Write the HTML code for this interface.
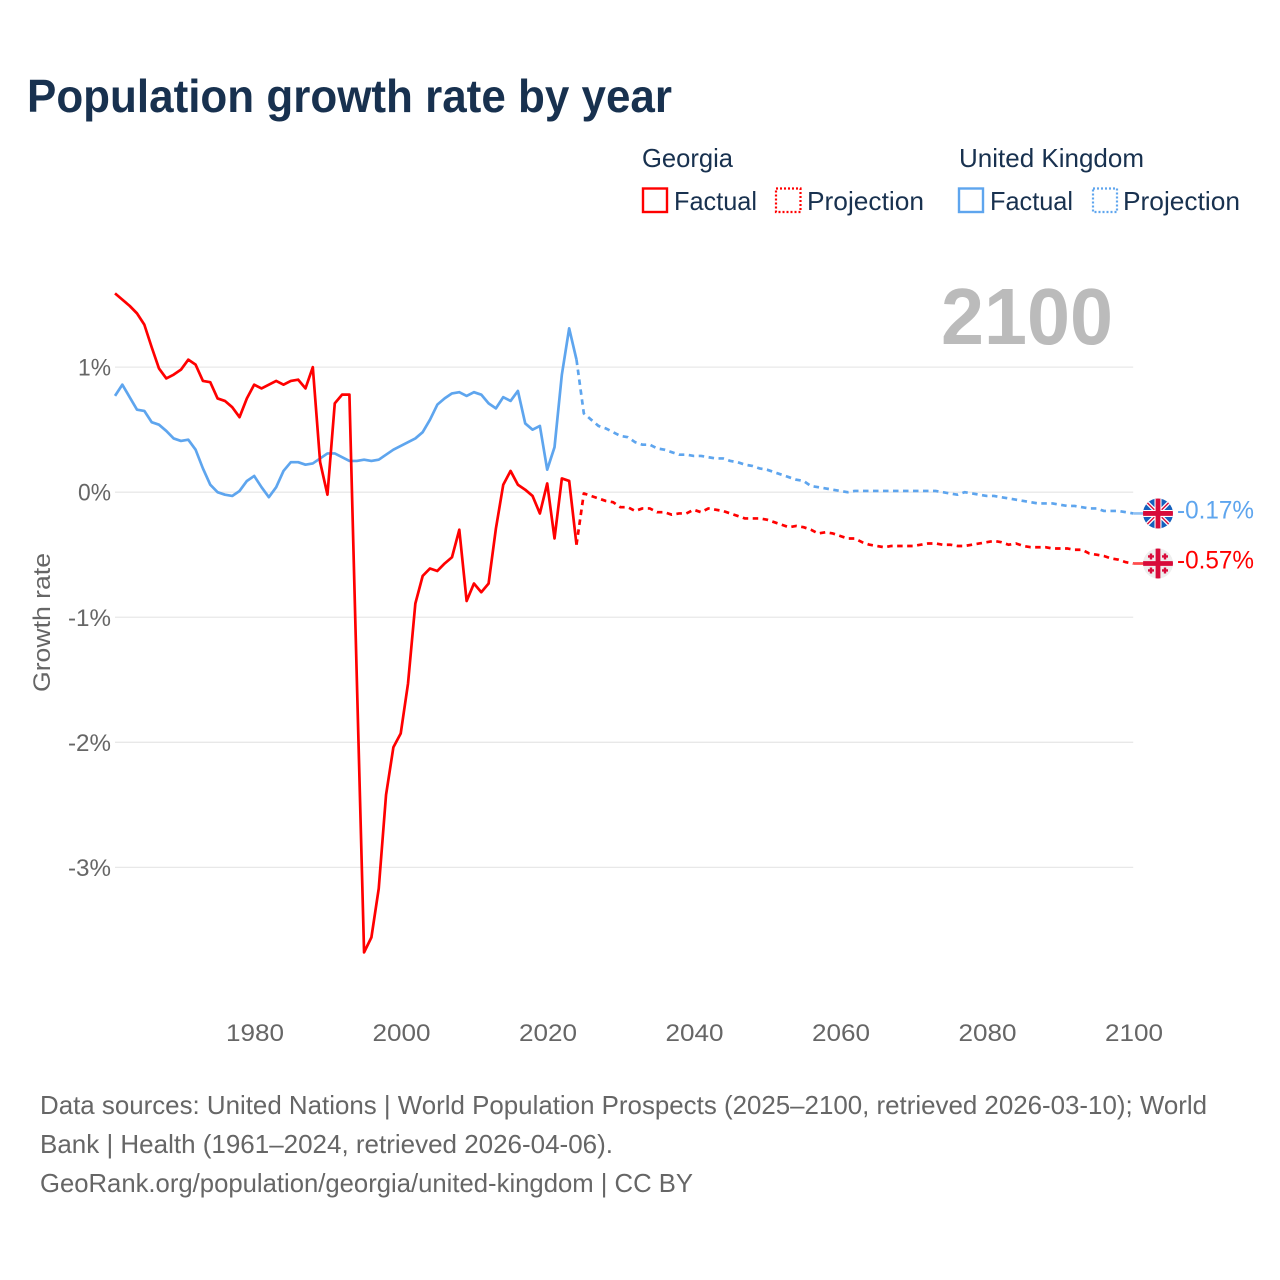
<!DOCTYPE html>
<html lang="en">
<head>
<meta charset="utf-8">
<title>Population growth rate by year</title>
<style>
html,body{margin:0;padding:0;background:#fff;}
svg{display:block;font-family:"Liberation Sans",sans-serif;}
</style>
</head>
<body>
<svg id="chart" xmlns="http://www.w3.org/2000/svg" width="1280" height="1280" viewBox="0 0 1280 1280">
  <defs>
    <clipPath id="clip-uk"><circle cx="0" cy="0" r="15"/></clipPath>
    <clipPath id="clip-ge"><circle cx="0" cy="0" r="15"/></clipPath>
  </defs>
  <rect x="0" y="0" width="1280" height="1280" fill="#fff"/>
  <text x="27" y="112" font-size="46" font-weight="700" fill="#18314f" textLength="645" lengthAdjust="spacingAndGlyphs">Population growth rate by year</text>

  <g font-size="26" fill="#18314f">
    <text x="642" y="167" textLength="91" lengthAdjust="spacingAndGlyphs">Georgia</text>
    <text x="959" y="167" textLength="185" lengthAdjust="spacingAndGlyphs">United Kingdom</text>
    <rect x="643" y="188.5" width="24" height="23.5" fill="none" stroke="#ff0000" stroke-width="2.4"/>
    <text x="674" y="210" textLength="83" lengthAdjust="spacingAndGlyphs">Factual</text>
    <rect x="776" y="188.5" width="24.5" height="23.5" fill="none" stroke="#ff0000" stroke-width="2.2" stroke-dasharray="2 2"/>
    <text x="807" y="210" textLength="117" lengthAdjust="spacingAndGlyphs">Projection</text>
    <rect x="959" y="188.5" width="24" height="23.5" fill="none" stroke="#5ea5ee" stroke-width="2.4"/>
    <text x="990" y="210" textLength="83" lengthAdjust="spacingAndGlyphs">Factual</text>
    <rect x="1093" y="188.5" width="24" height="23.5" fill="none" stroke="#5ea5ee" stroke-width="2.2" stroke-dasharray="2 2"/>
    <text x="1123" y="210" textLength="117" lengthAdjust="spacingAndGlyphs">Projection</text>
  </g>

  <g id="grid"></g>
  <g id="y-ticks" font-size="24" fill="#666"></g>
  <g id="x-ticks" font-size="24" fill="#666"></g>
  <text transform="translate(50 692) rotate(-90)" font-size="24" fill="#666" textLength="139" lengthAdjust="spacingAndGlyphs">Growth rate</text>
  <text x="941" y="344" font-size="80" font-weight="700" fill="#bbbbbb" textLength="172" lengthAdjust="spacingAndGlyphs">2100</text>

  <g id="series"></g>

  <g id="flag-uk">
    <g clip-path="url(#clip-uk)">
      <rect x="-15" y="-15" width="30" height="30" fill="#1560bd"/>
      <path d="M-15-15L15 15M15-15L-15 15" stroke="#fff" stroke-width="4"/>
      <path d="M-15-15L15 15M15-15L-15 15" stroke="#d80b3a" stroke-width="1.4"/>
      <path d="M0-15V15M-15 0H15" stroke="#fff" stroke-width="7"/>
      <path d="M0-15V15M-15 0H15" stroke="#d80b3a" stroke-width="4.8"/>
    </g>
  </g>
  <g id="flag-ge">
    <g clip-path="url(#clip-ge)">
      <rect x="-15" y="-15" width="30" height="30" fill="#eeeeee"/>
      <path d="M0-15V15M-15 0H15" stroke="#d80b3a" stroke-width="4.8"/>
      <path d="M-7-10V-4M-10-7H-4M7-10V-4M4-7H10M-7 4V10M-10 7H-4M7 4V10M4 7H10" stroke="#d80b3a" stroke-width="2.4"/>
    </g>
  </g>
  <text id="label-uk" x="1177" font-size="25" fill="#5ea5ee" textLength="77" lengthAdjust="spacingAndGlyphs"></text>
  <text id="label-ge" x="1177" font-size="25" fill="#ff0000" textLength="77" lengthAdjust="spacingAndGlyphs"></text>

  <g font-size="26" fill="#666">
    <text x="40" y="1114" textLength="1167" lengthAdjust="spacingAndGlyphs">Data sources: United Nations | World Population Prospects (2025–2100, retrieved 2026-03-10); World</text>
    <text x="40" y="1153" textLength="573" lengthAdjust="spacingAndGlyphs">Bank | Health (1961–2024, retrieved 2026-04-06).</text>
    <text x="40" y="1192" textLength="653" lengthAdjust="spacingAndGlyphs">GeoRank.org/population/georgia/united-kingdom | CC BY</text>
  </g>
</svg>
<script>
const yTickValues = [1, 0, -1, -2, -3];
const yTickLabels = ["1%", "0%", "-1%", "-2%", "-3%"];
const xTickYears = [1980, 2000, 2020, 2040, 2060, 2080, 2100];
const factualStartYear = 1961;
const projectionStartYear = 2025;
const georgiaFactual = [1.59,1.54,1.49,1.43,1.34,1.16,0.99,0.91,0.94,0.98,
  1.06,1.02,0.89,0.88,0.75,0.73,0.68,0.60,0.75,0.86,
  0.83,0.86,0.89,0.86,0.89,0.90,0.83,1.00,0.24,-0.02,
  0.71,0.78,0.78,-1.47,-3.68,-3.56,-3.17,-2.42,-2.04,-1.93,
  -1.53,-0.89,-0.67,-0.61,-0.63,-0.57,-0.52,-0.30,-0.87,-0.73,
  -0.80,-0.73,-0.29,0.06,0.17,0.06,0.02,-0.03,-0.17,0.07,
  -0.37,0.11,0.09,-0.42];
const georgiaProjection = [-0.01,-0.03,-0.05,-0.07,-0.08,-0.12,-0.12,-0.15,-0.13,-0.13,
  -0.16,-0.16,-0.18,-0.17,-0.17,-0.14,-0.16,-0.13,-0.14,-0.15,
  -0.17,-0.19,-0.21,-0.21,-0.21,-0.22,-0.24,-0.26,-0.28,-0.27,
  -0.28,-0.30,-0.33,-0.32,-0.33,-0.35,-0.37,-0.37,
  -0.40,-0.42,-0.43,-0.44,-0.43,-0.43,-0.43,-0.43,-0.42,-0.41,
  -0.41,-0.42,-0.42,-0.43,-0.43,-0.42,-0.41,-0.40,-0.39,-0.40,
  -0.42,-0.41,-0.43,-0.44,-0.44,-0.44,-0.45,-0.45,-0.45,-0.46,
  -0.46,-0.49,-0.50,-0.51,-0.53,-0.54,-0.56,-0.57];
const ukFactual = [0.77,0.86,0.76,0.66,0.65,0.56,0.54,0.49,0.43,0.41,
  0.42,0.34,0.19,0.06,0.00,-0.02,-0.03,0.01,0.09,0.13,
  0.04,-0.04,0.04,0.17,0.24,0.24,0.22,0.23,0.27,0.31,
  0.31,0.28,0.25,0.25,0.26,0.25,0.26,0.30,0.34,0.37,
  0.40,0.43,0.48,0.58,0.70,0.75,0.79,0.80,0.77,0.80,
  0.78,0.71,0.67,0.76,0.73,0.81,0.55,0.50,0.53,0.18,
  0.36,0.94,1.31,1.06];
const ukProjection = [0.63,0.58,0.53,0.51,0.48,0.45,0.44,0.40,0.38,0.38,
  0.35,0.34,0.32,0.30,0.30,0.29,0.29,0.28,0.27,0.27,
  0.25,0.24,0.22,0.21,0.19,0.18,0.16,0.14,0.12,0.10,
  0.09,0.05,0.04,0.03,0.02,0.01,0.00,0.01,
  0.01,0.01,0.01,0.01,0.01,0.01,0.01,0.01,0.01,0.01,
  0.01,0.00,-0.01,-0.02,0.00,-0.01,-0.02,-0.03,-0.03,-0.04,
  -0.05,-0.06,-0.07,-0.08,-0.09,-0.09,-0.09,-0.10,-0.11,-0.11,
  -0.12,-0.13,-0.13,-0.15,-0.15,-0.15,-0.16,-0.17];

const SVG_NS = "http://www.w3.org/2000/svg";
const RED = "#ff0000";
const BLUE = "#5ea5ee";
function xScale(year) { return 254.2 + (year - 1980) * (1133.2 - 254.2) / 120; }
function yScale(value) { return 492.2 - value * 125.05; }
function linePath(values, startYear) {
  return values.map(function (v, i) {
    return (i ? "L" : "M") + xScale(startYear + i).toFixed(2) + " " + yScale(v).toFixed(2);
  }).join("");
}

const gridGroup = document.getElementById("grid");
const yGroup = document.getElementById("y-ticks");
yTickValues.forEach(function (v, i) {
  const line = document.createElementNS(SVG_NS, "line");
  
  
  line.setAttribute("x1", xScale(factualStartYear));
  line.setAttribute("x2", xScale(2100));
  line.setAttribute("y1", yScale(v));
  line.setAttribute("y2", yScale(v));
  line.setAttribute("stroke", "#e8e8e8");
  line.setAttribute("stroke-width", "1.3");
  gridGroup.appendChild(line);
  const label = document.createElementNS(SVG_NS, "text");
  
  
  label.setAttribute("x", 111);
  label.setAttribute("y", yScale(v) + 8.5);
  label.setAttribute("text-anchor", "end");
  label.setAttribute("textLength", yTickLabels[i].length === 2 ? "33" : "43");
  label.setAttribute("lengthAdjust", "spacingAndGlyphs");
  label.textContent = yTickLabels[i];
  yGroup.appendChild(label);
});

const xGroup = document.getElementById("x-ticks");
xTickYears.forEach(function (year) {
  const label = document.createElementNS(SVG_NS, "text");
  
  
  label.setAttribute("x", xScale(year) + 0.8);
  label.setAttribute("y", 1041);
  label.setAttribute("text-anchor", "middle");
  label.setAttribute("textLength", "58");
  label.setAttribute("lengthAdjust", "spacingAndGlyphs");
  label.textContent = String(year);
  xGroup.appendChild(label);
});

const seriesGroup = document.getElementById("series");
function drawLine(name, d, color, dashed, opacity) {
  const path = document.createElementNS(SVG_NS, "path");
  
  
  path.setAttribute("d", d);
  path.setAttribute("fill", "none");
  path.setAttribute("stroke", color);
  path.setAttribute("stroke-width", "2.7");
  path.setAttribute("stroke-linejoin", "round");
  if (dashed) { path.setAttribute("stroke-dasharray", "5.5 4.5"); }
  if (opacity) { path.setAttribute("stroke-opacity", opacity); }
  seriesGroup.appendChild(path);
}
function connected(projection, factual) {
  return [factual[factual.length - 1]].concat(projection);
}
drawLine("uk-projection-line", linePath(connected(ukProjection, ukFactual), projectionStartYear - 1), BLUE, true);
drawLine("georgia-projection-line", linePath(connected(georgiaProjection, georgiaFactual), projectionStartYear - 1), RED, true);
drawLine("uk-factual-line", linePath(ukFactual, factualStartYear), BLUE, false);
drawLine("georgia-factual-line", linePath(georgiaFactual, factualStartYear), RED, false);

function placeEnd(flagId, labelId, connectorName, values, color) {
  const last = values[values.length - 1];
  const y = yScale(last);
  drawLine(connectorName, "M" + xScale(2100) + " " + y + "L1158 " + y, color, false, "0.7");
  document.getElementById(flagId).setAttribute("transform", "translate(1158 " + y + ")");
  const label = document.getElementById(labelId);
  label.setAttribute("y", y + 5);
  label.textContent = last.toFixed(2) + "%";
}
placeEnd("flag-uk", "label-uk", "uk-end-connector", ukProjection, BLUE);
placeEnd("flag-ge", "label-ge", "georgia-end-connector", georgiaProjection, RED);
</script>
</body>
</html>
